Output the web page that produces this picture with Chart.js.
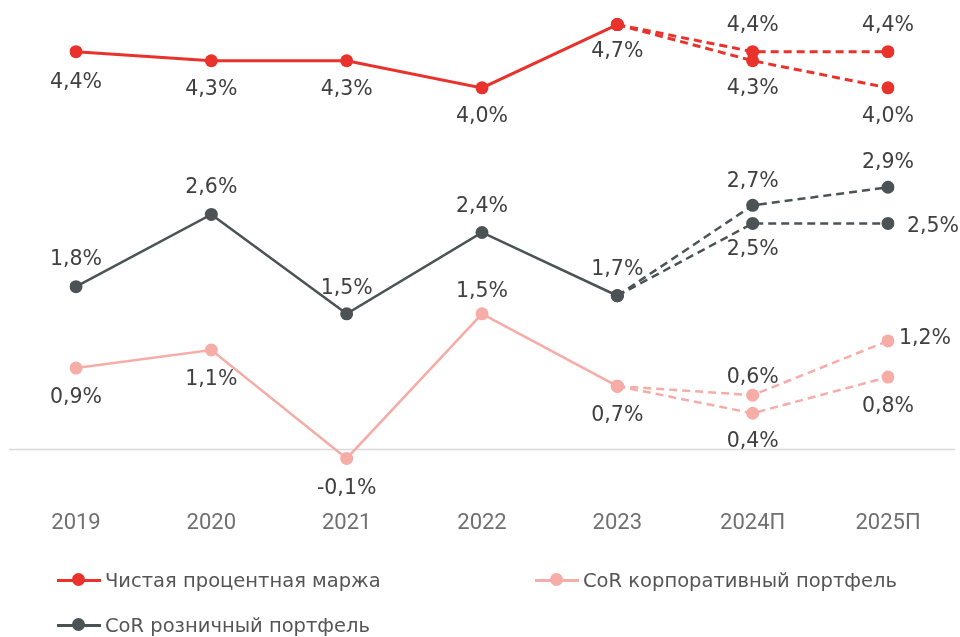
<!DOCTYPE html>
<html>
<head>
<meta charset="utf-8">
<script src="https://cdn.jsdelivr.net/npm/chart.js@4.4.1/dist/chart.umd.min.js"></script>
<style>
  html, body { margin: 0; padding: 0; background: #ffffff; }
  #wrap { position: relative; width: 960px; height: 637px; overflow: hidden; }
  #c { position: absolute; left: 0; top: 0; }
  .leg { position: absolute; height: 24px; display: flex; align-items: center;
         font-family: "DejaVu Sans", sans-serif; font-size: 19.5px; color: #555; white-space: nowrap; }
  .mk { position: relative; width: 44px; height: 14px; margin-right: 4px; }
  .mk .ln { position: absolute; left: 0; right: 0; top: 5.5px; height: 3px; }
  .mk .dt { position: absolute; left: 15px; top: 0; width: 13px; height: 13px; border-radius: 50%; }
</style>
</head>
<body>
<div id="wrap">
  <canvas id="c" width="960" height="637"></canvas>
  <div class="leg" style="left:57px; top:568px;"><div class="mk"><div class="ln" style="background:#e8322b"></div><div class="dt" style="background:#e8322b"></div></div><span>Чистая процентная маржа</span></div>
  <div class="leg" style="left:535px; top:568px;"><div class="mk"><div class="ln" style="background:#f6aca7"></div><div class="dt" style="background:#f6aca7"></div></div><span>CoR корпоративный портфель</span></div>
  <div class="leg" style="left:57px; top:613px;"><div class="mk"><div class="ln" style="background:#4b5355"></div><div class="dt" style="background:#4b5355"></div></div><span>CoR розничный портфель</span></div>
</div>
<script>
const categories = ['2019', '2020', '2021', '2022', '2023', '2024П', '2025П'];

const nimActual        = [4.4, 4.3, 4.3, 4.0, 4.7, null, null];
const nimForecastHigh  = [null, null, null, null, 4.7, 4.4, 4.4];
const nimForecastLow   = [null, null, null, null, 4.7, 4.3, 4.0];

const retailActual       = [1.8, 2.6, 1.5, 2.4, 1.7, null, null];
const retailForecastHigh = [null, null, null, null, 1.7, 2.7, 2.9];
const retailForecastLow  = [null, null, null, null, 1.7, 2.5, 2.5];

const corpActual       = [0.9, 1.1, -0.1, 1.5, 0.7, null, null];
const corpForecastHigh = [null, null, null, null, 0.7, 0.6, 1.2];
const corpForecastLow  = [null, null, null, null, 0.7, 0.4, 0.8];

// label placement offsets [dx, dy] relative to the point (style only, null = no label)
const nimActualLbl   = [[0,31],[0,29],[0,29],[0,29],[0,27],null,null];
const nimHighLbl     = [null,null,null,null,null,[0,-26],[0,-26]];
const nimLowLbl      = [null,null,null,null,null,[0,28],[0,29]];
const retailActualLbl= [[0,-27],[0,-27],[0,-25],[0,-26],[0,-26],null,null];
const retailHighLbl  = [null,null,null,null,null,[0,-24],[0,-25]];
const retailLowLbl   = [null,null,null,null,null,[0,26],[45,3]];
const corpActualLbl  = [[0,30],[0,30],[0,30],[0,-22],[0,30],null,null];
const corpHighLbl    = [null,null,null,null,null,[0,-18],[37,-2]];
const corpLowLbl     = [null,null,null,null,null,[0,28],[0,30]];

const RED = '#e8322b', DARK = '#4b5355', PINK = '#f6aca7';

function ds(data, color, dashed, lbl, width) {
  return {
    data: data,
    borderColor: color,
    backgroundColor: color,
    pointBackgroundColor: color,
    pointBorderWidth: 0,
    pointRadius: 6.5,
    borderWidth: width,
    borderDash: dashed ? [8, 5] : [],
    tension: 0,
    spanGaps: false,
    labelOffsets: lbl
  };
}

const fmt = v => String(v.toFixed(1)).replace('.', ',') + '%';

const labelPlugin = {
  id: 'valueLabels',
  afterDatasetsDraw(chart) {
    const ctx = chart.ctx;
    ctx.save();
    ctx.font = '20.5px "DejaVu Sans", sans-serif';
    ctx.fillStyle = '#404040';
    ctx.textAlign = 'center';
    ctx.textBaseline = 'middle';
    chart.data.datasets.forEach((d, i) => {
      const meta = chart.getDatasetMeta(i);
      meta.data.forEach((pt, j) => {
        const off = d.labelOffsets[j];
        const v = d.data[j];
        if (!off || v === null) return;
        ctx.fillText(fmt(v), pt.x + off[0], pt.y + off[1]);
      });
    });
    ctx.restore();
  }
};

const zeroLine = {
  id: 'zeroLine',
  beforeDatasetsDraw(chart) {
    const y = chart.scales.y.getPixelForValue(0);
    const ctx = chart.ctx;
    ctx.save();
    ctx.strokeStyle = '#d9d9d9';
    ctx.lineWidth = 1.5;
    ctx.beginPath();
    ctx.moveTo(9, y);
    ctx.lineTo(955, y);
    ctx.stroke();
    ctx.restore();
  }
};

new Chart(document.getElementById('c'), {
  type: 'line',
  data: {
    labels: categories,
    datasets: [
      ds(nimActual, RED, false, nimActualLbl, 3),
      ds(nimForecastHigh, RED, true, nimHighLbl, 3),
      ds(nimForecastLow, RED, true, nimLowLbl, 3),
      ds(retailActual, DARK, false, retailActualLbl, 2.5),
      ds(retailForecastHigh, DARK, true, retailHighLbl, 2.5),
      ds(retailForecastLow, DARK, true, retailLowLbl, 2.5),
      ds(corpActual, PINK, false, corpActualLbl, 2.5),
      ds(corpForecastHigh, PINK, true, corpHighLbl, 2.5),
      ds(corpForecastLow, PINK, true, corpLowLbl, 2.5)
    ]
  },
  options: {
    responsive: false,
    animation: false,
    layout: { padding: { left: 76, right: 72, top: 0, bottom: 92 } },
    plugins: { legend: { display: false }, tooltip: { enabled: false } },
    scales: {
      x: {
        offset: false,
        grid: { display: false },
        border: { display: false },
        ticks: { color: '#707070', font: { family: 'Roboto', size: 22 }, padding: 8, maxRotation: 0, autoSkip: false }
      },
      y: {
        display: false,
        min: -0.5,
        max: 4.9
      }
    }
  },
  plugins: [zeroLine, labelPlugin]
});
</script>
</body>
</html>
